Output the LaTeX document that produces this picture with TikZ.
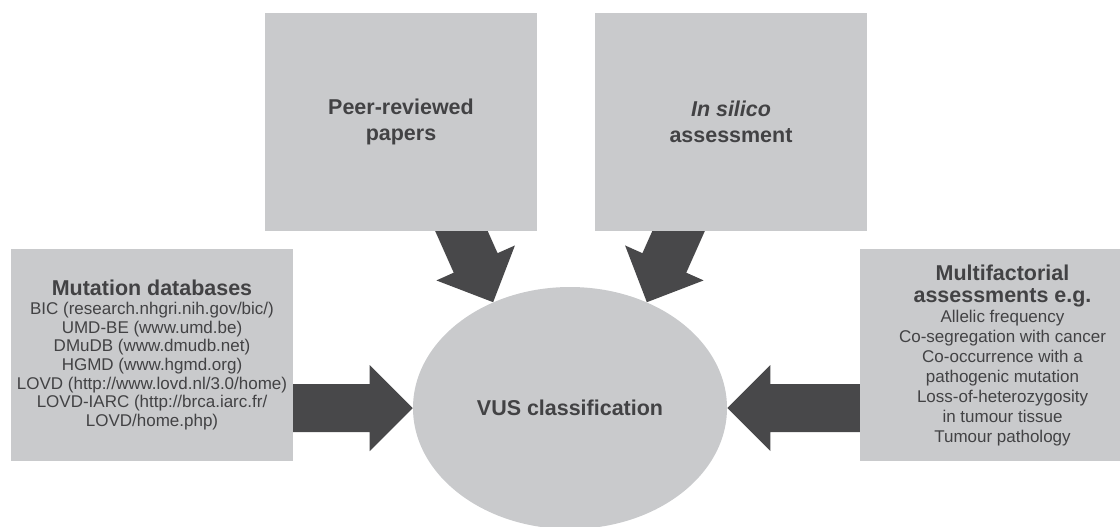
\documentclass[tikz,border=0pt]{standalone}
\usepackage{fontspec}
\setmainfont{Liberation Sans}
\usetikzlibrary{shapes.geometric,backgrounds}
\definecolor{boxc}{RGB}{201,202,204}
\definecolor{arrowc}{RGB}{72,72,74}
\definecolor{textc}{RGB}{66,66,68}
\newcommand\blockarrow[3]{%
  \begin{scope}[shift={#1}, rotate=#2]
    \fill[arrowc] (0,0) -- (-43,43) -- (-43,24) -- (-#3,24) -- (-#3,-24) -- (-43,-24) -- (-43,-43) -- cycle;
  \end{scope}}
\tikzset{
  graybox/.style={fill=boxc, draw=none, inner sep=0pt, text=textc, align=center},
  bodyfont/.style={font=\fontsize{12.75}{14}\selectfont},
  titlefont/.style={font=\bfseries\fontsize{16.1}{19.5}\selectfont},
}
\newcommand\ttl[1]{{\bfseries\fontsize{16.1}{14}\selectfont #1}}
\begin{document}
\begin{tikzpicture}[x=0.75pt,y=-0.75pt]
\useasboundingbox (0,0) rectangle (1120,526);
\clip (0,0) rectangle (1120,526);

\node[graybox, titlefont, minimum width=204pt, minimum height=163.5pt] (peer) at (401,122)
  {Peer-reviewed\\papers};
\node[graybox, titlefont, minimum width=204pt, minimum height=163.5pt] (silico) at (731,122)
  {\textit{In silico}\\assessment};
\node[graybox, bodyfont, minimum width=211.5pt, minimum height=159pt] (mut) at (152,355)
  {\ttl{Mutation databases}\\
   BIC (research.nhgri.nih.gov/bic/)\\
   UMD-BE (www.umd.be)\\
   DMuDB (www.dmudb.net)\\
   HGMD (www.hgmd.org)\\
   LOVD (http://www.lovd.nl/3.0/home)\\
   LOVD-IARC (http://brca.iarc.fr/\\
   LOVD/home.php)};
\node[graybox, font=\fontsize{12.75}{15}\selectfont, minimum width=213.75pt, minimum height=159pt] (multi) at (1002.5,355)
  {\ttl{Multifactorial}\\[1.5pt]
   \ttl{assessments e.g.}\\
   Allelic frequency\\
   Co-segregation with cancer\\
   Co-occurrence with a\\
   pathogenic mutation\\
   Loss-of-heterozygosity\\
   in tumour tissue\\
   Tumour pathology};
\node[graybox, ellipse, titlefont, minimum width=235.5pt, minimum height=181.5pt] (vus) at (570,408)
  {VUS classification};

\begin{pgfonlayer}{background}
  \blockarrow{(vus.west)}{0}{130}
  \blockarrow{(vus.east)}{180}{140}
  \blockarrow{(vus.126)}{-66}{100}
  \blockarrow{(vus.54)}{-114}{100}
\end{pgfonlayer}
\end{tikzpicture}
\end{document}
